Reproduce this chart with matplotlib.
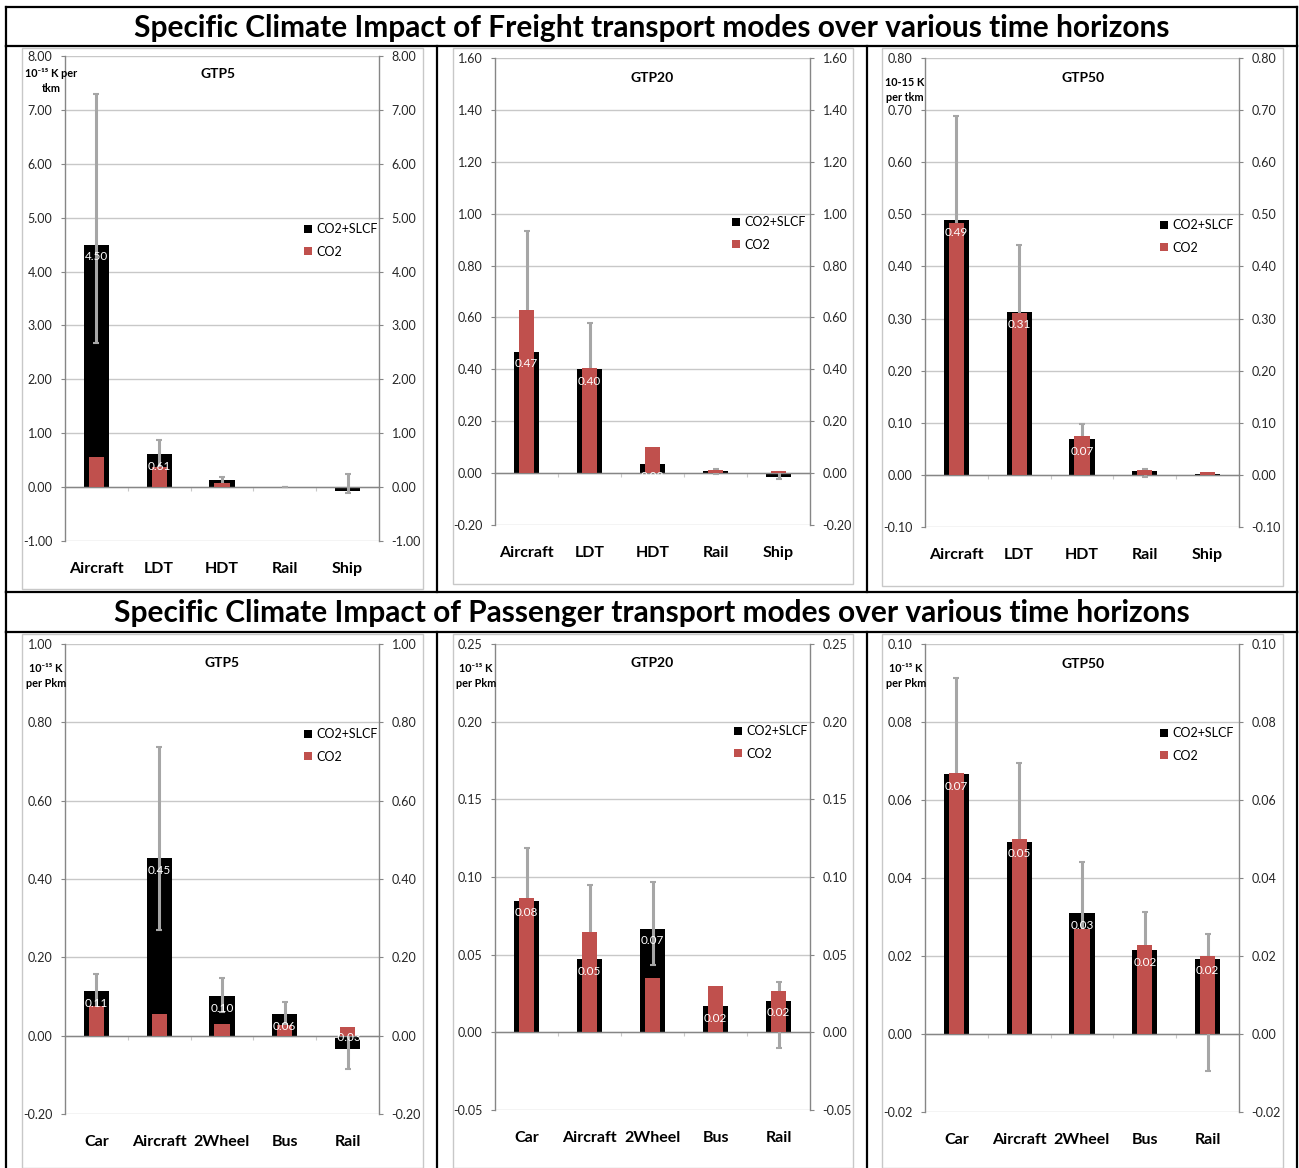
import numpy as np
import matplotlib.pyplot as plt
from matplotlib.patches import Patch, Rectangle
from matplotlib.lines import Line2D
from matplotlib.ticker import MultipleLocator, FormatStrFormatter

plt.rcParams['font.family'] = ['Lato', 'DejaVu Sans']

W, H = 1299, 1168
BLACK = '#000000'
RED = '#C0504D'
ERRC = '#A6A6A6'
AXC = '#868686'
GRIDC = '#C8C8C8'

freight_modes = ['Aircraft', 'LDT', 'HDT', 'Rail', 'Ship']
passenger_modes = ['Car', 'Aircraft', '2Wheel', 'Bus', 'Rail']

# freight GTP5
f5_total = [4.50, 0.61, 0.124, 0.004, -0.078]
f5_co2 = [0.553, 0.38, 0.085, 0.006, 0.01]
f5_lo = [2.665, 0.35, 0.06, 0.004, -0.117]
f5_hi = [7.30, 0.88, 0.19, 0.004, 0.24]
f5_lab = ['4.50', '0.61', '', '', '']

# freight GTP20
f20_total = [0.468, 0.40, 0.035, 0.0095, -0.0135]
f20_co2 = [0.63, 0.405, 0.099, 0.012, 0.0095]
f20_lo = [0.30, 0.25, 0.035, -0.005, -0.022]
f20_hi = [0.934, 0.578, 0.035, 0.015, 0.005]
f20_lab = ['0.47', '0.40', '0.03', '', '']

# freight GTP50
f50_total = [0.489, 0.312, 0.068, 0.0077, 0.0024]
f50_co2 = [0.483, 0.31, 0.075, 0.0098, 0.005]
f50_lo = [0.30, 0.18, 0.04, -0.005, 0.0024]
f50_hi = [0.689, 0.442, 0.097, 0.012, 0.0024]
f50_lab = ['0.49', '0.31', '0.07', '', '']

# passenger GTP5
p5_total = [0.114, 0.453, 0.101, 0.055, -0.034]
p5_co2 = [0.077, 0.055, 0.029, 0.027, 0.022]
p5_lo = [0.07, 0.269, 0.06, 0.03, -0.085]
p5_hi = [0.158, 0.736, 0.147, 0.085, 0.01]
p5_lab = ['0.11', '0.45', '0.10', '0.06', '-0.03']

# passenger GTP20
p20_total = [0.0847, 0.0472, 0.0666, 0.0168, 0.0203]
p20_co2 = [0.0867, 0.0649, 0.035, 0.0296, 0.0267]
p20_lo = [0.05, 0.02, 0.0435, 0.0168, -0.0101]
p20_hi = [0.1185, 0.0946, 0.0968, 0.0168, 0.0326]
p20_lab = ['0.08', '0.05', '0.07', '0.02', '0.02']

# passenger GTP50
p50_total = [0.0666, 0.0493, 0.0309, 0.0215, 0.0193]
p50_co2 = [0.0669, 0.0499, 0.027, 0.0228, 0.0199]
p50_lo = [0.04, 0.03, 0.02, 0.012, -0.0094]
p50_hi = [0.0914, 0.0694, 0.0442, 0.0313, 0.0257]
p50_lab = ['0.07', '0.05', '0.03', '0.02', '0.02']

panels = [
    # modes, total, co2, lo, hi, labels, ylim, step, title, unit text
    (freight_modes, f5_total, f5_co2, f5_lo, f5_hi, f5_lab, (-1, 8), 1.0, 'GTP5', '10⁻¹⁵ K per\ntkm'),
    (freight_modes, f20_total, f20_co2, f20_lo, f20_hi, f20_lab, (-0.2, 1.6), 0.2, 'GTP20', ''),
    (freight_modes, f50_total, f50_co2, f50_lo, f50_hi, f50_lab, (-0.1, 0.8), 0.1, 'GTP50', '10-15 K\nper tkm'),
    (passenger_modes, p5_total, p5_co2, p5_lo, p5_hi, p5_lab, (-0.2, 1.0), 0.2, 'GTP5', '10⁻¹⁵ K\nper Pkm'),
    (passenger_modes, p20_total, p20_co2, p20_lo, p20_hi, p20_lab, (-0.05, 0.25), 0.05, 'GTP20', '10⁻¹⁵ K\nper Pkm'),
    (passenger_modes, p50_total, p50_co2, p50_lo, p50_hi, p50_lab, (-0.02, 0.10), 0.02, 'GTP50', '10⁻¹⁵ K\nper Pkm'),
]

# layout in pixels (x0, x1, ytop, ybottom) for the plot areas
rects = [(65, 379, 56, 541), (495, 810, 58, 525), (925, 1239, 58, 527),
         (65, 379, 644, 1114), (495, 810, 644, 1110), (925, 1239, 644, 1112)]
gtp_pos = [(218, 74), (652, 78), (1083, 78), (222, 663), (652, 663), (1083, 664)]
unit_pos = [(51, 81, 'center'), None, (885, 90, 'left'),
            (46, 676, 'center'), (476, 676, 'center'), (906, 676, 'center')]
leg_pos = [(304, 223), (732, 216), (1160, 219), (304, 728), (734, 725), (1160, 727)]
frames = [(22, 48, 423, 589), (453, 48, 853, 584), (882, 48, 1283, 586),
          (22, 634, 423, 1168), (453, 634, 853, 1168), (882, 634, 1283, 1168)]

fig = plt.figure(figsize=(W / 100, H / 100), dpi=100)


def fx(x):
    return x / W


def fy(y):
    return 1 - y / H


# light grey chart frames
for (x0, y0, x1, y1) in frames:
    fig.patches.append(Rectangle((fx(x0), fy(y1)), fx(x1 - x0), (y1 - y0) / H,
                                 transform=fig.transFigure, fill=False,
                                 edgecolor='#C8C8C8', lw=1.0))

for k, (modes, total, co2, lo, hi, labs, ylim, step, gtp, unit) in enumerate(panels):
    x0, x1, yt, yb = rects[k]
    ax = fig.add_axes([fx(x0), fy(yb), fx(x1 - x0), (yb - yt) / H])
    x = np.arange(len(modes))
    total = np.array(total)
    yerr = [total - np.array(lo), np.array(hi) - total]

    ax.bar(x, total, width=0.4, color=BLACK, zorder=2)
    ax.errorbar(x, total, yerr=yerr, fmt='none', ecolor=ERRC, elinewidth=2.2,
                capsize=2, capthick=1.5, zorder=3)
    ax.bar(x, co2, width=0.24, color=RED, zorder=4)

    for i, t in enumerate(labs):
        if t:
            off = -12 if total[i] >= 0 else 11
            ax.annotate(t, (x[i], total[i]), xytext=(0, off * 0.72),
                        textcoords='offset points', ha='center', va='center',
                        color='white', fontsize=8.5, zorder=5)

    for i, m in enumerate(modes):
        ax.annotate(m, (x[i], 0), xycoords=('data', 'axes fraction'),
                    xytext=(0, -28 * 0.72), textcoords='offset points',
                    ha='center', va='center', fontsize=11.5, fontweight='bold')

    ax.set_xlim(-0.5, len(modes) - 0.5)
    ax.set_ylim(*ylim)
    ax.yaxis.set_major_locator(MultipleLocator(step))
    ax.yaxis.set_major_formatter(FormatStrFormatter('%.2f'))
    ax.grid(axis='y', color=GRIDC, lw=1.0, zorder=0)
    ax.set_axisbelow(True)
    ax.spines['top'].set_visible(False)
    ax.spines['bottom'].set_position(('data', 0))
    for s in ['left', 'right', 'bottom']:
        ax.spines[s].set_color(AXC)
        ax.spines[s].set_linewidth(1.0)
    ax.set_xticks([0.5, 1.5, 2.5, 3.5])
    ax.set_xticklabels([])
    ax.tick_params(axis='x', direction='out', length=3, color='#C8C8C8')
    ax.tick_params(axis='y', direction='out', length=3, color=AXC,
                   left=True, right=True, labelleft=True, labelright=True,
                   labelsize=9, labelcolor='#262626', pad=6)

    gx, gy = gtp_pos[k]
    fig.text(fx(gx), fy(gy), gtp, ha='center', va='center', fontsize=10,
             fontweight='bold')
    if unit_pos[k] is not None:
        ux, uy, ha = unit_pos[k]
        fig.text(fx(ux), fy(uy), unit, ha=ha, va='center', fontsize=7.8,
                 fontweight='bold', linespacing=1.35, multialignment='center')

    lx, ly = leg_pos[k]
    handles = [Patch(facecolor=BLACK), Patch(facecolor=RED)]
    fig.legend(handles, ['CO2+SLCF', 'CO2'], loc='upper left',
               bbox_to_anchor=(fx(lx), fy(ly)), frameon=False, fontsize=9,
               handlelength=0.62, handleheight=0.62, handletextpad=0.35,
               labelspacing=0.85, borderpad=0, borderaxespad=0)

# black frame lines
lw = 1.6
for y in [7, 46, 592, 632]:
    fig.add_artist(Line2D([fx(6), fx(1297)], [fy(y), fy(y)], color='black', lw=lw))
for xx in [6, 437, 867, 1297]:
    fig.add_artist(Line2D([fx(xx), fx(xx)], [fy(46), fy(592)], color='black', lw=lw))
    fig.add_artist(Line2D([fx(xx), fx(xx)], [fy(632), fy(1168)], color='black', lw=lw))
for xx in [6, 1297]:
    fig.add_artist(Line2D([fx(xx), fx(xx)], [fy(7), fy(46)], color='black', lw=lw))
    fig.add_artist(Line2D([fx(xx), fx(xx)], [fy(592), fy(632)], color='black', lw=lw))

fig.text(fx(652), fy(28), 'Specific Climate Impact of Freight transport modes over various time horizons',
         ha='center', va='center', fontsize=21.5, fontweight='bold')
fig.text(fx(652), fy(613), 'Specific Climate Impact of Passenger transport modes over various time horizons',
         ha='center', va='center', fontsize=21.5, fontweight='bold')

plt.savefig('out.png', dpi=100)
